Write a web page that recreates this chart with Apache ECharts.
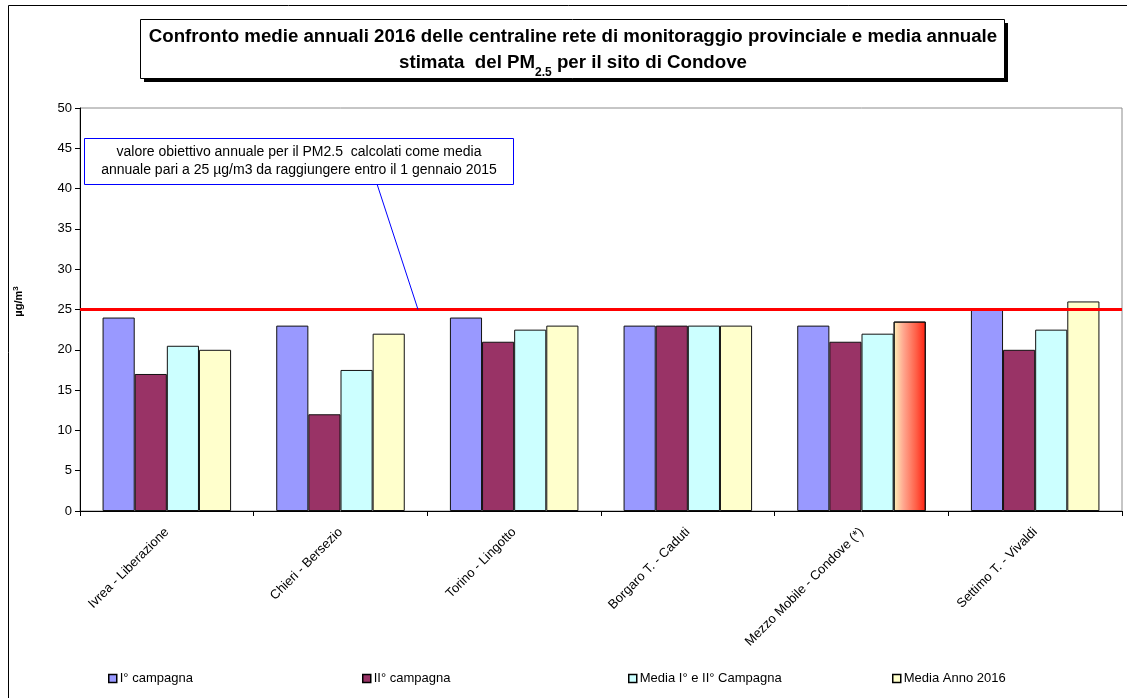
<!DOCTYPE html>
<html>
<head>
<meta charset="utf-8">
<script src="https://cdn.jsdelivr.net/npm/echarts@6/dist/echarts.min.js"></script>
<style>
  html, body { margin: 0; padding: 0; background: #fff; }
  #chart { width: 1127px; height: 698px; }
</style>
</head>
<body>
<div id="chart"></div>
<script>
// Stations of the provincial monitoring network plus the mobile unit at Condove
const categories = [
  'Ivrea - Liberazione',
  'Chieri - Bersezio',
  'Torino - Lingotto',
  'Borgaro T. - Caduti',
  'Mezzo Mobile - Condove (*)',
  'Settimo T. - Vivaldi'
];

// PM2.5 annual means (µg/m3)
const primaCampagna   = [24, 23, 24, 23, 23, 25];
const secondaCampagna = [17, 12, 21, 23, 21, 20];
const mediaCampagne   = [20.5, 17.5, 22.5, 23, 22, 22.5];
const mediaAnno2016   = [20, 22, 23, 23, 23.5, 26];

const seriesNames = ['I° campagna', 'II° campagna', 'Media I° e II° Campagna', 'Media Anno 2016'];
const seriesColors = ['#9999ff', '#993366', '#ccffff', '#ffffcc'];

// Annual target value for PM2.5
const targetValue = 25;
const yTicks = { min: 0, max: 50, interval: 5 };

const FONT = "'Liberation Sans', Arial, sans-serif";
const NARROW = "'Liberation Sans Narrow', 'Liberation Sans', Arial, sans-serif";

const chart = echarts.init(document.getElementById('chart'), null, { renderer: 'canvas' });

// The Condove estimate is drawn with a yellow-to-red shaded fill
const estimateFill = new echarts.graphic.LinearGradient(0, 0, 1, 0, [
  { offset: 0, color: '#fff2b8' },
  { offset: 0.3, color: '#ffa890' },
  { offset: 0.7, color: '#ff6048' },
  { offset: 1, color: '#ff2010' }
]);

const seriesData = [primaCampagna, secondaCampagna, mediaCampagne, mediaAnno2016];

const series = seriesData.map((vals, i) => ({
  name: seriesNames[i],
  type: 'bar',
  barGap: '0%',
  barCategoryGap: '26%',
  itemStyle: { color: seriesColors[i], borderColor: '#111', borderWidth: 1 },
  emphasis: { disabled: true },
  data: vals.map((v, k) => (i === 3 && k === 4)
    ? { value: v, itemStyle: { color: estimateFill } }
    : v),
  markLine: i === 0 ? {
    silent: true,
    symbol: 'none',
    label: { show: false },
    lineStyle: { color: '#ff0000', width: 3, type: 'solid' },
    data: [{ yAxis: targetValue }]
  } : undefined
}));

const legendLefts = [103, 357, 623, 887];
const legends = seriesNames.map((n, i) => ({
  data: [n],
  left: legendLefts[i],
  top: 667,
  icon: 'rect',
  itemWidth: 8,
  itemHeight: 8,
  itemGap: 0,
  selectedMode: false,
  textStyle: { fontFamily: NARROW, fontSize: 13, color: '#000', padding: [0, 0, 0, -2] },
  itemStyle: { borderColor: '#000', borderWidth: 1.5 }
}));

chart.setOption({
  animation: false,
  backgroundColor: '#fff',
  grid: {
    left: 80, right: 5, top: 108, bottom: 187,
    show: true, borderColor: '#8c8c8c', borderWidth: 1, backgroundColor: 'transparent'
  },
  legend: legends,
  xAxis: {
    type: 'category',
    data: categories,
    boundaryGap: true,
    axisLine: { lineStyle: { color: '#000', width: 1 } },
    axisTick: { show: true, length: 5, lineStyle: { color: '#000' }, alignWithLabel: false },
    axisLabel: {
      interval: 0, rotate: 45, margin: 19,
      fontFamily: FONT, fontSize: 13, color: '#000'
    },
    splitLine: { show: false }
  },
  yAxis: {
    type: 'value',
    min: yTicks.min, max: yTicks.max, interval: yTicks.interval,
    axisLine: { show: true, lineStyle: { color: '#000', width: 1 } },
    axisTick: { show: true, length: 5, inside: false, lineStyle: { color: '#000' } },
    axisLabel: { fontFamily: FONT, fontSize: 13, color: '#000', margin: 8 },
    splitLine: { show: false },
    name: '{u|µg/m}{s|3}',
    nameLocation: 'middle',
    nameRotate: 90,
    nameGap: 54,
    nameTextStyle: {
      padding: [0, 0, 0, 16],
      rich: {
        u: { fontFamily: FONT, fontSize: 11, fontWeight: 'bold', color: '#000', lineHeight: 14 },
        s: { fontFamily: FONT, fontSize: 8, fontWeight: 'bold', color: '#000', verticalAlign: 'top', lineHeight: 14 }
      }
    }
  },
  series: series
});

// Annotation box and connector pointing to the target line
const yTarget = chart.convertToPixel({ yAxisIndex: 0 }, targetValue);

chart.setOption({
  graphic: [
    // outer chart frame
    { type: 'rect', silent: true, z: 0,
      shape: { x: 8.5, y: 5.5, width: 1300, height: 900 },
      style: { fill: null, stroke: '#000', lineWidth: 1 } },
    // title box with drop shadow
    { type: 'rect', silent: true, z: 10,
      shape: { x: 144, y: 23, width: 864, height: 59 },
      style: { fill: '#000' } },
    { type: 'rect', silent: true, z: 11,
      shape: { x: 140.5, y: 19.5, width: 864, height: 59 },
      style: { fill: '#fff', stroke: '#000', lineWidth: 1 } },
    { type: 'text', silent: true, z: 12,
      x: 573, y: 37,
      style: {
        text: 'Confronto medie annuali 2016 delle centraline rete di monitoraggio provinciale e media annuale',
        fontFamily: FONT, fontSize: 18.7, fontWeight: 'bold', fill: '#000', align: 'center', verticalAlign: 'middle'
      } },
    { type: 'text', silent: true, z: 12,
      x: 573, y: 47,
      style: {
        text: '{a|stimata  del PM}{s|2.5}{a| per il sito di Condove}',
        align: 'center', verticalAlign: 'top',
        rich: {
          a: { fontFamily: FONT, fontSize: 18.7, fontWeight: 'bold', fill: '#000', lineHeight: 26 },
          s: { fontFamily: FONT, fontSize: 12, fontWeight: 'bold', fill: '#000', lineHeight: 32, verticalAlign: 'bottom' }
        }
      } },
    // annotation
    { type: 'line', silent: true, z: 20,
      shape: { x1: 377, y1: 184, x2: 418, y2: yTarget },
      style: { stroke: '#0000ff', lineWidth: 1 } },
    { type: 'rect', silent: true, z: 21,
      shape: { x: 84.5, y: 138.5, width: 429, height: 46 },
      style: { fill: '#fff', stroke: '#0000ff', lineWidth: 1 } },
    { type: 'text', silent: true, z: 22,
      x: 299, y: 161,
      style: {
        text: 'valore obiettivo annuale per il PM2.5  calcolati come media\nannuale pari a 25 µg/m3 da raggiungere entro il 1 gennaio 2015',
        fontFamily: FONT, fontSize: 14, fill: '#000', align: 'center', verticalAlign: 'middle', lineHeight: 18
      } }
  ]
});
</script>
</body>
</html>
